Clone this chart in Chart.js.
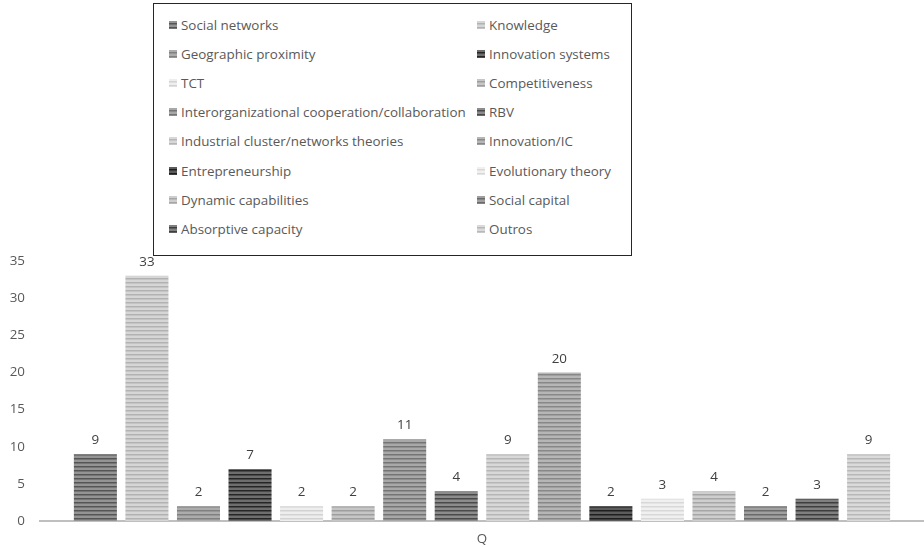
<!DOCTYPE html>
<html>
<head>
<meta charset="utf-8">
<script src="https://cdn.jsdelivr.net/npm/chart.js@4/dist/chart.umd.min.js"></script>
<style>
  html, body { margin: 0; padding: 0; background: #fff; }
  #wrap { position: relative; width: 924px; height: 547px; }
  #chart { position: absolute; left: 0; top: 0; }
  #legend {
    position: absolute; left: 153px; top: 3px; width: 479px; height: 253px;
    border: 1px solid #262626; background: #fff; box-sizing: border-box;
    font-family: "Open Sans", "Liberation Sans", sans-serif; font-size: 13.4px; color: #595959;
  }
  .item { position: absolute; display: flex; align-items: center; white-space: nowrap; }
  .item canvas { width: 8px; height: 8px; margin-right: 4px; }
</style>
</head>
<body>
<div id="wrap">
  <canvas id="chart" width="924" height="547"></canvas>
  <div id="legend"></div>
</div>
<script>
// Frameworks cited and how often each appears
const categories = ['Q'];
const frameworks = [
  'Social networks', 'Knowledge',
  'Geographic proximity', 'Innovation systems',
  'TCT', 'Competitiveness',
  'Interorganizational cooperation/collaboration', 'RBV',
  'Industrial cluster/networks theories', 'Innovation/IC',
  'Entrepreneurship', 'Evolutionary theory',
  'Dynamic capabilities', 'Social capital',
  'Absorptive capacity', 'Outros'
];
const counts = [9, 33, 2, 7, 2, 2, 11, 4, 9, 20, 2, 3, 4, 2, 3, 9];
const yTicks = [0, 5, 10, 15, 20, 25, 30, 35];

const FONT = '"Open Sans", "Liberation Sans", sans-serif';
const FONT_SIZE = 13.4;

// Striped grey fills: [light tone, dark tone] per series
const stripeTones = [
  ['#949494', '#555555'], ['#d6d6d6', '#b2b2b2'],
  ['#acacac', '#808080'], ['#6e6e6e', '#262626'],
  ['#eeeeee', '#d2d2d2'], ['#c6c6c6', '#9e9e9e'],
  ['#a8a8a8', '#747474'], ['#8c8c8c', '#4a4a4a'],
  ['#d8d8d8', '#b6b6b6'], ['#b6b6b6', '#888888'],
  ['#5c5c5c', '#1e1e1e'], ['#f0f0f0', '#d8d8d8'],
  ['#cecece', '#a6a6a6'], ['#a0a0a0', '#6a6a6a'],
  ['#808080', '#3e3e3e'], ['#dadada', '#b8b8b8']
];

function stripeTile(light, dark) {
  const c = document.createElement('canvas');
  c.width = 4; c.height = 4;
  const g = c.getContext('2d');
  g.fillStyle = light; g.fillRect(0, 0, 4, 4);
  g.fillStyle = dark; g.fillRect(0, 2, 4, 1);
  g.globalAlpha = 0.5; g.fillRect(0, 3, 4, 1);
  return c;
}

const ctx = document.getElementById('chart').getContext('2d');
const patterns = stripeTones.map(t => ctx.createPattern(stripeTile(t[0], t[1]), 'repeat'));

const datasets = frameworks.map((name, i) => ({
  label: name,
  data: [counts[i]],
  backgroundColor: patterns[i],
  borderWidth: 0
}));

// Value written above each bar
const barValues = {
  id: 'barValues',
  afterDatasetsDraw(chart) {
    const c = chart.ctx;
    c.save();
    c.font = FONT_SIZE + 'px ' + FONT;
    c.fillStyle = '#404040';
    c.textAlign = 'center';
    c.textBaseline = 'bottom';
    chart.data.datasets.forEach((ds, i) => {
      chart.getDatasetMeta(i).data.forEach((bar, j) => {
        c.fillText(String(ds.data[j]), bar.x, bar.y - 7);
      });
    });
    c.restore();
  }
};

const chart = new Chart(ctx, {
  type: 'bar',
  data: { labels: categories, datasets },
  options: {
    responsive: false,
    animation: false,
    layout: { padding: { top: 261, right: 0, bottom: 0, left: 0 } },
    datasets: { bar: { barPercentage: 0.835, categoryPercentage: 0.933 } },
    plugins: { legend: { display: false }, tooltip: { enabled: false } },
    scales: {
      x: {
        grid: { display: false, drawTicks: false },
        border: { display: true, color: '#bfbfbf', width: 2 },
        ticks: { color: '#595959', font: { family: FONT, size: FONT_SIZE }, padding: 10 },
        afterFit(s) { s.height = 26; }
      },
      y: {
        min: 0, max: 35,
        afterBuildTicks(s) { s.ticks = yTicks.map(v => ({ value: v })); },
        grid: { display: false, drawTicks: false },
        border: { display: false },
        ticks: { color: '#595959', font: { family: FONT, size: FONT_SIZE }, padding: 15 },
        afterFit(s) { s.width = 40; }
      }
    }
  },
  plugins: [barValues]
});

// Two-column legend box built from the chart's datasets
const legend = document.getElementById('legend');
chart.data.datasets.forEach((ds, i) => {
  const item = document.createElement('div');
  item.className = 'item';
  const col = i % 2, row = Math.floor(i / 2);
  item.style.left = (col === 0 ? 15 : 323) + 'px';
  item.style.top = (12 + row * 29.1) + 'px';
  const sw = document.createElement('canvas');
  sw.width = 8; sw.height = 8;
  const g = sw.getContext('2d');
  g.fillStyle = g.createPattern(stripeTile(stripeTones[i][0], stripeTones[i][1]), 'repeat');
  g.fillRect(0, 0, 8, 8);
  item.appendChild(sw);
  const t = document.createElement('span');
  t.textContent = ds.label;
  item.appendChild(t);
  legend.appendChild(item);
});
</script>
</body>
</html>
